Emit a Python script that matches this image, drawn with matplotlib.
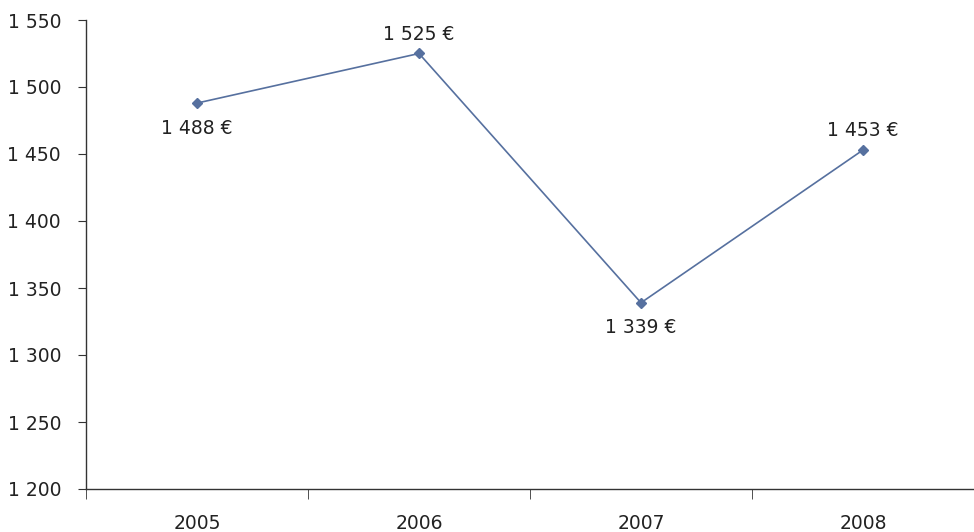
import matplotlib
matplotlib.use("Agg")
import matplotlib.pyplot as plt
from matplotlib.ticker import FuncFormatter, FixedLocator

years = ["2005", "2006", "2007", "2008"]
values = [1488, 1525, 1339, 1453]
label_pos = ["below", "above", "below", "above"]

def fmt(v):
    return f"{int(v):,}".replace(",", " ")

plt.rcParams['font.family'] = ['DejaVu Sans']
fig = plt.figure(figsize=(9.74, 5.32), dpi=100)
ax = fig.add_axes([86/974, 1-489/532, 1-86/974, (489-20)/532])

x = list(range(len(years)))
color = "#56709f"
ax.plot(x, values, color=color, lw=1.2, marker="D", markersize=5.5, zorder=3)

for xi, v, p in zip(x, values, label_pos):
    dy = -25 if p == "below" else 19
    ax.annotate(f"{fmt(v)} €", (xi, v), xytext=(0, dy), textcoords="offset pixels",
                ha="center", va="center", fontsize=13.5, color="#222222")

ax.set_xlim(-0.5, len(years) - 0.5)
ax.set_ylim(1200, 1550)
ax.set_yticks(range(1200, 1551, 50))
ax.yaxis.set_major_formatter(FuncFormatter(lambda v, p: fmt(v)))
ax.set_xticks(x)
ax.set_xticklabels(years)
ax.xaxis.set_minor_locator(FixedLocator([i - 0.5 for i in range(len(years) + 1)]))
ax.tick_params(axis="x", which="major", length=0, pad=18, labelsize=13.5, labelcolor="#222222")
ax.tick_params(axis="x", which="minor", length=7, direction="out", color="#333333")
ax.tick_params(axis="y", length=6, direction="out", labelsize=13.5, labelcolor="#222222", color="#333333", pad=12)
for s in ["top", "right"]:
    ax.spines[s].set_visible(False)
for s in ["left", "bottom"]:
    ax.spines[s].set_color("#333333")
    ax.spines[s].set_linewidth(1.0)

fig.savefig("out.png", dpi=100)
